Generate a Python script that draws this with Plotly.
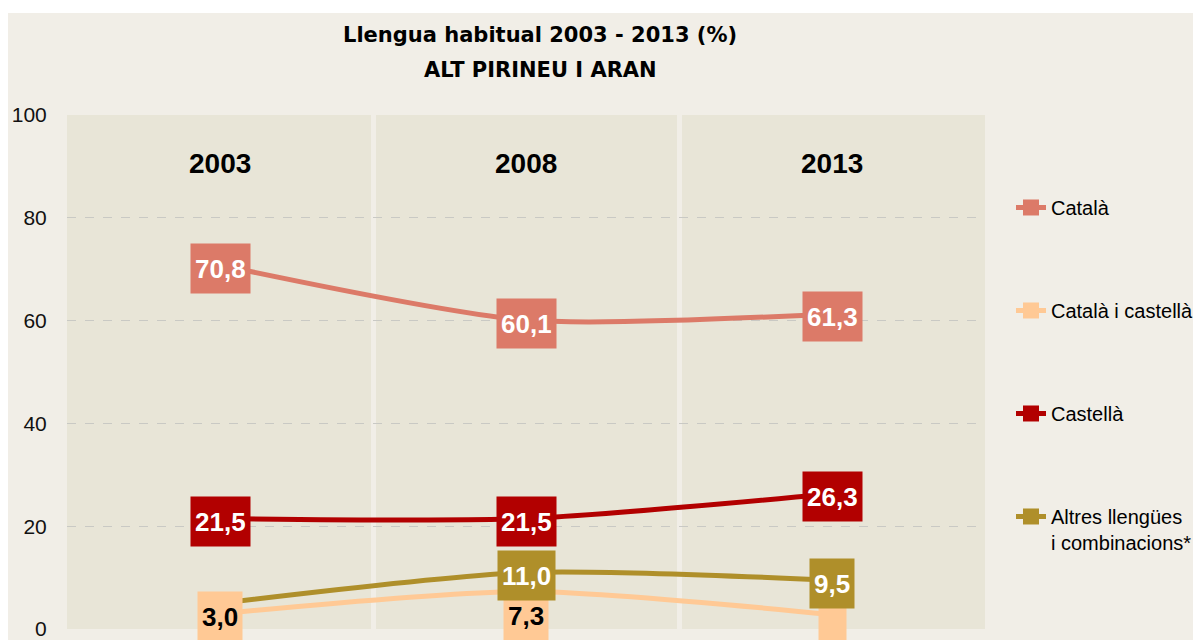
import plotly.graph_objects as go

# ---------------- data ----------------
years = ["2003", "2008", "2013"]
series_names = ["Català", "Català i castellà", "Castellà", "Altres llengües<br>i combinacions*"]
catala = [70.8, 60.1, 61.3]
catala_castella = [3.0, 7.3, 2.8]
castella = [21.5, 21.5, 26.3]
altres = [5.0, 11.0, 9.5]
y_ticks = [0, 20, 40, 60, 80, 100]

# ---------------- style ----------------
colors = ["#DC7A68", "#FFC995", "#B20000", "#AF8F2A"]
label_font_colors = ["white", "black", "white", "white"]
PAGE_BG = "#F1EEE7"
PLOT_BG = "#E8E5D7"
FONT = "Liberation Sans, Arial, sans-serif"
TITLE_FONT = "DejaVu Sans, Liberation Sans, sans-serif"

W, H = 1201, 640
ML, MT, MB = 59, 107, 19
PLOT_W = 918
PAPER_W = W - ML
DOM = PLOT_W / PAPER_W

values = [catala, catala_castella, castella, altres]
label_yshift = {(1, 1): -21}
label_hidden = {(3, 0)}
label_blank = {(1, 2): 19}

fig = go.Figure()
for i, (name, vals) in enumerate(zip(series_names, values)):
    fig.add_trace(go.Scatter(
        x=years, y=vals, name=name, mode="lines+markers",
        line=dict(color=colors[i], width=5, shape="spline", smoothing=0.7),
        marker=dict(symbol="square", size=18, color=colors[i]),
        legendgroup=f"g{i}", cliponaxis=False,
    ))

annotations = []
for i in [1, 0, 2, 3]:
    for j, v in enumerate(values[i]):
        if (i, j) in label_hidden:
            continue
        txt = f"{v:.1f}".replace(".", ",")
        ann = dict(
            x=j, y=v, xref="x", yref="y", showarrow=False,
            text=f"<b>{txt}</b>", bgcolor=colors[i], borderpad=4,
            height=41, valign="middle", yanchor="middle",
            font=dict(family=FONT, size=26, color=label_font_colors[i]),
            yshift=label_yshift.get((i, j), 0) - 3,
        )
        if (i, j) in label_blank:
            ann["text"] = " "
            ann["width"] = label_blank[(i, j)]
        annotations.append(ann)

for j, yr in enumerate(years):
    annotations.append(dict(
        x=j, y=0.9066, xref="x", yref="paper", showarrow=False, yanchor="middle",
        text=f"<b>{yr}</b>", font=dict(family=FONT, size=28, color="black"),
    ))

TX = (540 - 8 - ML) / PAPER_W
annotations.append(dict(x=TX, y=1.1547, xref="paper", yref="paper", showarrow=False,
                        text="<b>Llengua habitual 2003 - 2013 (%)</b>",
                        font=dict(family=TITLE_FONT, size=21, color="black"), yanchor="middle"))
annotations.append(dict(x=TX, y=1.0885, xref="paper", yref="paper", showarrow=False,
                        text="<b>ALT PIRINEU I ARAN</b>",
                        font=dict(family=TITLE_FONT, size=21, color="black"), yanchor="middle"))

shapes = [
    dict(type="rect", xref="paper", yref="paper", x0=-0.1, x1=1.1, y0=1.1984, y1=1.25,
         fillcolor="white", line=dict(width=0), layer="above"),
]

fig.update_layout(
    width=W, height=H,
    margin=dict(l=ML, r=0, t=MT, b=MB, autoexpand=False),
    paper_bgcolor=PAGE_BG, plot_bgcolor=PLOT_BG,
    font=dict(family=FONT, color="black"),
    annotations=annotations, shapes=shapes,
    showlegend=True,
    legend=dict(
        x=(1003 - ML) / PAPER_W, xanchor="left", y=0.858, yanchor="top",
        font=dict(family=FONT, size=20, color="black"),
        tracegroupgap=74, valign="top", bgcolor="rgba(0,0,0,0)",
    ),
    xaxis=dict(
        domain=[0, DOM], automargin=False,
        type="category", tickson="boundaries", showgrid=True,
        gridcolor=PAGE_BG, gridwidth=5, showticklabels=False,
        ticks="", zeroline=False, showline=False, range=[-0.5, 2.5],
    ),
    yaxis=dict(
        automargin=False,
        range=[0, 100], tickvals=y_ticks, showgrid=True, gridcolor="#C9C9C4",
        gridwidth=1, griddash="dash", zeroline=False, showline=False,
        ticks="outside", ticklen=15, tickcolor="rgba(0,0,0,0)",
        tickfont=dict(family=FONT, size=21, color="#111111"),
    ),
)

fig.write_html("out.html")
